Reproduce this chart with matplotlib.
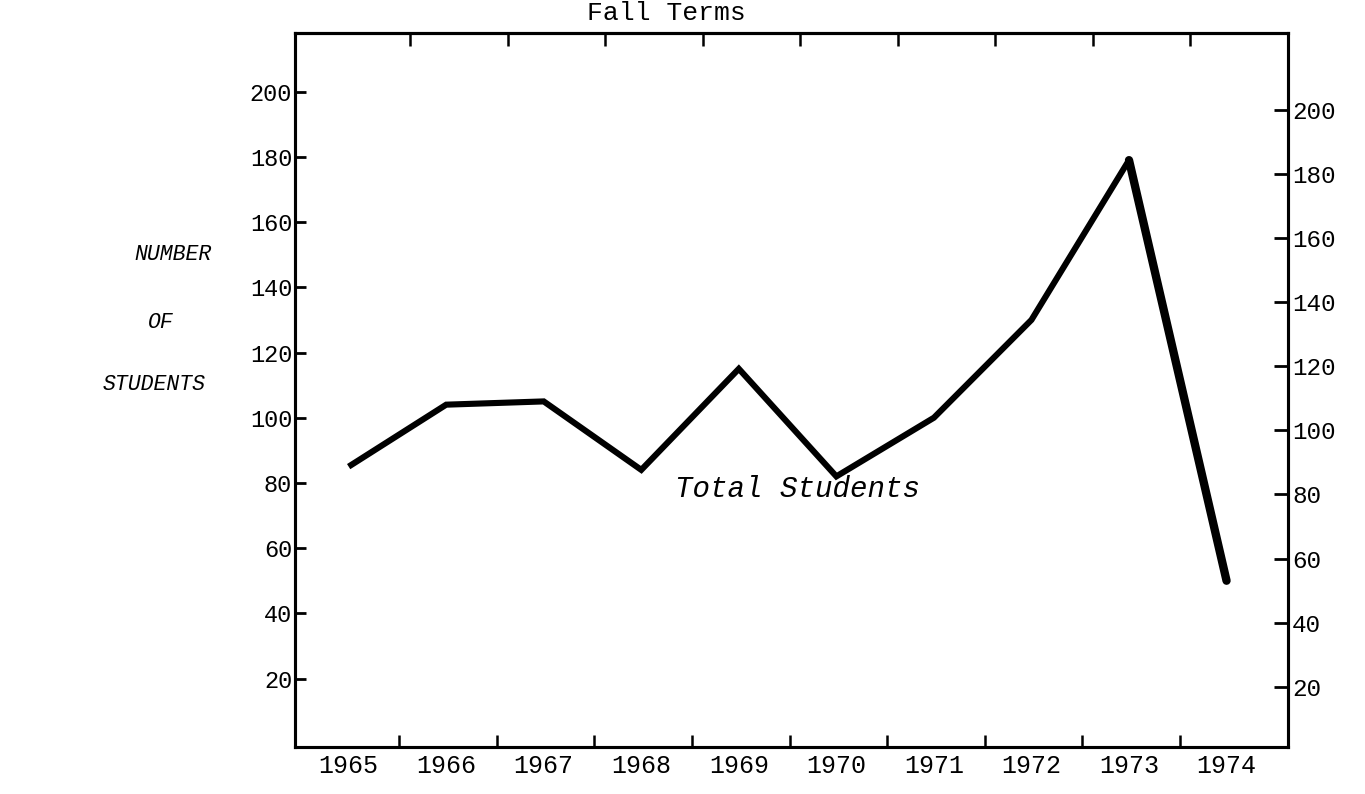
import matplotlib
matplotlib.use("Agg")
import matplotlib.pyplot as plt
import numpy as np

years = [1965, 1966, 1967, 1968, 1969, 1970, 1971, 1972, 1973, 1974]
total_students = [85, 104, 105, 84, 115, 82, 100, 130, 179, 50]
y_ticks = [20, 40, 60, 80, 100, 120, 140, 160, 180, 200]
year_labels = [str(y) for y in years]

MONO = ["Liberation Mono", "DejaVu Sans Mono"]

fig = plt.figure(figsize=(13.65, 7.94), dpi=100)
W, H = 1365, 794
left, right, top, bottom = 295, 1288, 33, 747
ax = fig.add_axes([left / W, 1 - bottom / H, (right - left) / W, (bottom - top) / H])

ax.plot(years[:9], total_students[:9], color="black", lw=4.4,
        solid_joinstyle="miter", solid_capstyle="butt")
ax.plot(years[8:], total_students[8:], color="black", lw=6.0,
        solid_capstyle="round")

ax.set_xlim(1964.45, 1974.63)
ax.set_ylim(-1, 218)

for s in ax.spines.values():
    s.set_linewidth(2.2)

# y ticks (left)
ax.set_yticks(y_ticks)
ax.set_yticklabels([str(v) for v in y_ticks], fontfamily=MONO, fontsize=17)
ax.tick_params(axis="y", direction="in", length=8, width=2, pad=2)

# x ticks: marks between years, labels under the years
ax.set_xticks([y + 0.52 for y in years[:-1]])
ax.set_xticklabels([])
ax.tick_params(axis="x", which="major", direction="in", length=9, width=1.8)
ax.set_xticks(years, minor=True)
ax.set_xticklabels(year_labels, minor=True, fontfamily=MONO, fontsize=18)
ax.tick_params(axis="x", which="minor", length=0, pad=5)

# top ticks
axt = ax.secondary_xaxis("top")
axt.set_xticks([y + 0.63 for y in years[:-1]])
axt.set_xticklabels([])
axt.tick_params(direction="in", length=9, width=1.8)
axt.spines["top"].set_linewidth(2.2)

# right axis
axr = ax.twinx()
axr.set_ylim(1.2, 224)
axr.set_yticks(y_ticks)
axr.set_yticklabels([str(v) for v in y_ticks], fontfamily=MONO, fontsize=17.5)
axr.tick_params(axis="y", direction="in", length=10, width=2, pad=3)
for s in axr.spines.values():
    s.set_linewidth(2.2)

fig.text(666 / W, 1 - 13 / H, "Fall Terms", fontfamily=MONO, fontsize=19,
         ha="center", va="center")
fig.text(173 / W, 1 - 255 / H, "NUMBER", fontfamily=MONO, fontstyle="italic",
         fontsize=15.5, ha="center", va="center")
fig.text(161 / W, 1 - 322 / H, "OF", fontfamily=MONO, fontstyle="italic",
         fontsize=15.5, ha="center", va="center")
fig.text(154 / W, 1 - 385 / H, "STUDENTS", fontfamily=MONO, fontstyle="italic",
         fontsize=15.5, ha="center", va="center")
ax.text(1969.6, 78, "Total Students", fontfamily=MONO, fontstyle="italic",
        fontsize=21, ha="center", va="center")

fig.savefig("out.png", dpi=100, facecolor="white")
